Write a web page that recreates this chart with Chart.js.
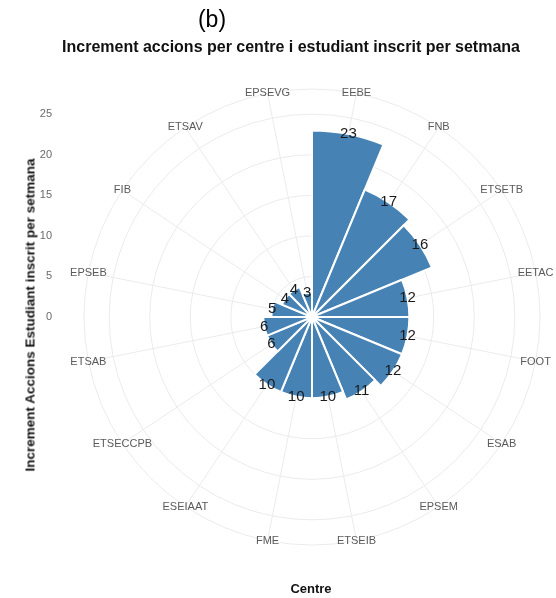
<!DOCTYPE html>
<html>
<head>
<meta charset="utf-8">
<script src="https://cdn.jsdelivr.net/npm/chart.js@4.4.0/dist/chart.umd.min.js"></script>
<style>
  html, body { margin: 0; padding: 0; background: #fff; }
  #wrap { position: relative; width: 556px; height: 598px; font-family: "Liberation Sans", Arial, sans-serif; }
  #wrap canvas { position: absolute; left: 0; top: 0; }
  .lbl { position: absolute; white-space: nowrap; color: #000; transform: translate(-50%, -50%); }
</style>
</head>
<body>
<div id="wrap">
  <canvas id="polar-chart" width="556" height="598"></canvas>
  <div class="lbl" style="left:212px; top:19px; font-size:23px;">(b)</div>
  <div class="lbl" style="left:291px; top:47px; font-size:16px; font-weight:bold; color:#111;">Increment accions per centre i estudiant inscrit per setmana</div>
  <div class="lbl" style="left:30px; top:315px; font-size:13.5px; font-weight:bold; color:#111; transform: translate(-50%, -50%) rotate(-90deg);">Increment Accions Estudiant inscrit per setmana</div>
  <div class="lbl" style="left:311px; top:588px; font-size:13px; font-weight:bold; color:#111;">Centre</div>
</div>
<script>
// centres, clockwise from the top
const centres = ["EEBE", "FNB", "ETSETB", "EETAC", "FOOT", "ESAB", "EPSEM", "ETSEIB",
                 "FME", "ESEIAAT", "ETSECCPB", "ETSAB", "EPSEB", "FIB", "ETSAV", "EPSEVG"];
const increments = [23, 17, 16, 12, 12, 12, 11, 10, 10, 10, 6, 6, 5, 4, 4, 3];
const radialTicks = [0, 5, 10, 15, 20, 25];
const radialMax = 28.1; // outer ring of the panel

// spokes at the middle of each bar, centre names on the outer ring, ticks on the left
const polarDecor = {
  id: 'polarDecor',
  beforeDatasetsDraw(chart) {
    const r = chart.scales.r, ctx = chart.ctx;
    const step = 2 * Math.PI / centres.length;
    ctx.save();
    ctx.strokeStyle = '#ebebeb';
    ctx.lineWidth = 1;
    centres.forEach((name, i) => {
      const a = r.getIndexAngle(i) + step / 2 - Math.PI / 2;
      ctx.beginPath();
      ctx.moveTo(r.xCenter, r.yCenter);
      ctx.lineTo(r.xCenter + Math.cos(a) * r.drawingArea, r.yCenter + Math.sin(a) * r.drawingArea);
      ctx.stroke();
    });
    ctx.fillStyle = '#5a5a5a';
    ctx.font = '11px "Liberation Sans", Arial, sans-serif';
    ctx.textAlign = 'center';
    ctx.textBaseline = 'middle';
    centres.forEach((name, i) => {
      const a = r.getIndexAngle(i) + step / 2 - Math.PI / 2;
      ctx.fillText(name, r.xCenter + Math.cos(a) * r.drawingArea, r.yCenter + Math.sin(a) * r.drawingArea);
    });
    ctx.textAlign = 'right';
    ctx.fillStyle = '#6a6a6a';
    radialTicks.forEach(v => {
      ctx.fillText(String(v), 52, r.yCenter - r.getDistanceFromCenterForValue(v));
    });
    ctx.restore();
  },
  afterDatasetsDraw(chart) {
    const r = chart.scales.r, ctx = chart.ctx;
    const meta = chart.getDatasetMeta(0);
    ctx.save();
    ctx.fillStyle = '#1a1a1a';
    ctx.font = '15px "Liberation Sans", Arial, sans-serif';
    ctx.textAlign = 'center';
    ctx.textBaseline = 'middle';
    meta.data.forEach((arc, i) => {
      const a = (arc.startAngle + arc.endAngle) / 2;
      const d = r.getDistanceFromCenterForValue(increments[i]);
      ctx.fillText(String(increments[i]), r.xCenter + Math.cos(a) * d, r.yCenter + Math.sin(a) * d);
    });
    ctx.restore();
  }
};

new Chart(document.getElementById('polar-chart'), {
  type: 'polarArea',
  data: {
    labels: centres,
    datasets: [{
      data: increments,
      backgroundColor: '#4682b4',
      borderColor: '#ffffff',
      borderWidth: 2
    }]
  },
  options: {
    responsive: false,
    animation: false,
    layout: { padding: { left: 84, right: 16, top: 89, bottom: 53 } },
    plugins: {
      legend: { display: false },
      tooltip: { enabled: false }
    },
    scales: {
      r: {
        min: 0,
        max: radialMax,
        startAngle: 0,
        afterBuildTicks: scale => {
          scale.ticks = radialTicks.concat([radialMax]).map(v => ({ value: v }));
        },
        ticks: { display: false },
        grid: { circular: true, color: '#ebebeb', lineWidth: 1 },
        angleLines: { display: false },
        pointLabels: { display: false }
      }
    }
  },
  plugins: [polarDecor]
});
</script>
</body>
</html>
